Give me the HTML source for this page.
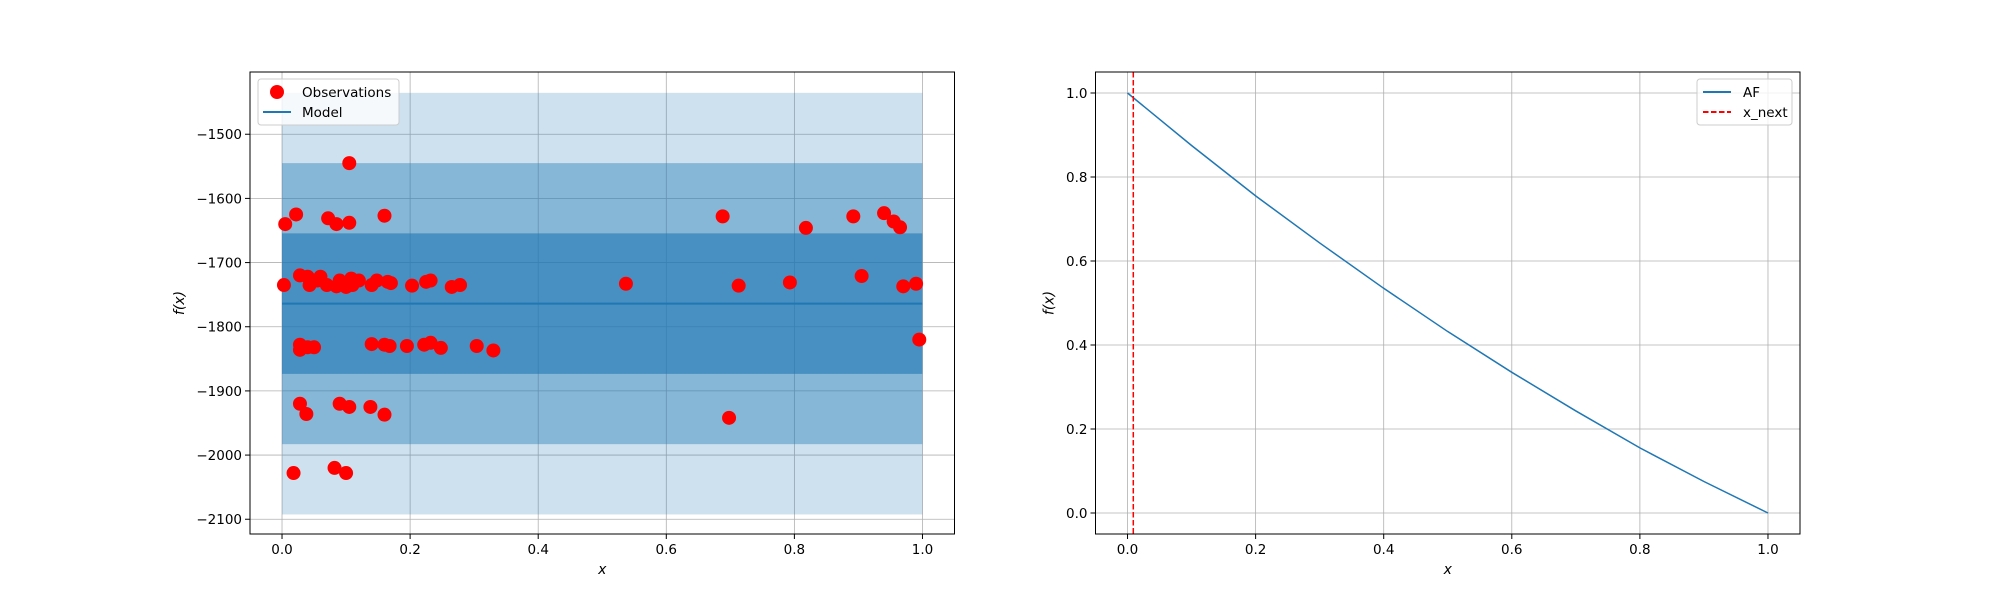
<!DOCTYPE html>
<html><head><meta charset="utf-8"><style>
body{margin:0;background:#fff}
svg{display:block;font-family:"DejaVu Sans","Liberation Sans",sans-serif}
</style></head><body>
<svg id="fig" width="2000" height="600" viewBox="0 0 2000 600" xmlns="http://www.w3.org/2000/svg"></svg>
<script>
const obsX=[0.005,0.003,0.022,0.028,0.04,0.043,0.055,0.06,0.07,0.072,0.085,0.085,0.09,0.1,0.105,0.105,0.108,0.11,0.12,0.14,0.148,0.16,0.165,0.17,0.203,0.225,0.232,0.265,0.278,0.537,0.688,0.713,0.793,0.818,0.892,0.905,0.94,0.955,0.965,0.97,0.99,0.995,0.028,0.028,0.04,0.05,0.14,0.16,0.168,0.195,0.222,0.232,0.248,0.304,0.33,0.028,0.038,0.09,0.105,0.138,0.16,0.698,0.018,0.082,0.1];
const obsY=[-1640,-1735,-1625,-1720,-1722,-1735,-1728,-1722,-1735,-1631,-1640,-1737,-1728,-1738,-1638,-1545,-1725,-1735,-1728,-1735,-1728,-1627,-1730,-1732,-1736,-1730,-1728,-1738,-1735,-1733,-1628,-1736,-1731,-1646,-1628,-1721,-1623,-1636,-1645,-1737,-1733,-1820,-1828,-1836,-1832,-1832,-1827,-1828,-1830,-1830,-1828,-1825,-1833,-1830,-1837,-1920,-1936,-1920,-1925,-1925,-1937,-1942,-2028,-2020,-2028];
const modelMean=-1764;
const modelStd=109.5;
const leftYTicks=[-2100,-2000,-1900,-1800,-1700,-1600,-1500];
const xTicks=[0,0.2,0.4,0.6,0.8,1.0];
const afX=[0,0.1,0.2,0.3,0.4,0.5,0.6,0.7,0.8,0.9,1.0];
const afY=[1.0,0.875,0.755,0.643,0.535,0.432,0.335,0.243,0.155,0.075,0.0];
const rightYTicks=[0,0.2,0.4,0.6,0.8,1.0];
const xNext=0.009;

const NS="http://www.w3.org/2000/svg";
const svg=document.getElementById('fig');
function mk(tag,attrs,parent){const e=document.createElementNS(NS,tag);for(const k in attrs)e.setAttribute(k,attrs[k]);(parent||svg).appendChild(e);return e;}
const T=72,B=534;
function axes(L,R,ylo,yhi,yticks,fmt,name){
  const g=mk('g',{});
  
  
  const sx=v=>L+(v+0.05)/1.1*(R-L);
  const sy=v=>B-(v-ylo)/(yhi-ylo)*(B-T);
  return {g,sx,sy,L,R,yticks,fmt};
}
function grid(a){
  const gg=mk('g',{},a.g);
  
  
  xTicks.forEach(t=>mk('line',{x1:a.sx(t),x2:a.sx(t),y1:T,y2:B,stroke:'#b0b0b0','stroke-width':0.8},gg));
  a.yticks.forEach(t=>mk('line',{x1:a.L,x2:a.R,y1:a.sy(t),y2:a.sy(t),stroke:'#b0b0b0','stroke-width':0.8},gg));
}
function frame(a,ylabel){
  mk('rect',{x:a.L,y:T,width:a.R-a.L,height:B-T,fill:'none',stroke:'#000','stroke-width':1},a.g);
  const xt=mk('g',{},a.g);
  
  
  xTicks.forEach(t=>{mk('line',{x1:a.sx(t),x2:a.sx(t),y1:B,y2:B+5,stroke:'#000'},xt);
    const tx=mk('text',{x:a.sx(t),y:B+20,'text-anchor':'middle','font-size':13.5},xt);tx.textContent=t.toFixed(1);});
  const yt=mk('g',{},a.g);
  
  
  a.yticks.forEach(t=>{mk('line',{x1:a.L-5,x2:a.L,y1:a.sy(t),y2:a.sy(t),stroke:'#000'},yt);
    const tx=mk('text',{x:a.L-8,y:a.sy(t)+5,'text-anchor':'end','font-size':13.5},yt);tx.textContent=a.fmt(t);});
  const xl=mk('text',{x:(a.L+a.R)/2,y:B+40,'text-anchor':'middle','font-size':14,'font-style':'italic'},a.g);
  xl.textContent='x';
  
  
  const yx=a.L-ylabel, yy=(T+B)/2;
  const yl=mk('text',{x:yx,y:yy,'text-anchor':'middle','font-size':14,'font-style':'italic',transform:`rotate(-90 ${yx} ${yy})`},a.g);
  yl.textContent='f(x)';
  
  
}
// left
const A=axes(250,954.5,-2123,-1403,leftYTicks,t=>'\u2212'+Math.abs(t),'left-axes');
grid(A);
[[3,0.22],[2,0.4],[1,0.6]].forEach(([k,op])=>{
  const r=mk('rect',{x:A.sx(0),width:A.sx(1)-A.sx(0),y:A.sy(modelMean+k*modelStd),height:A.sy(modelMean-k*modelStd)-A.sy(modelMean+k*modelStd),fill:'#1f77b4','fill-opacity':op},A.g);
  
  
});
const ml=mk('line',{x1:A.sx(0),x2:A.sx(1),y1:A.sy(modelMean),y2:A.sy(modelMean),stroke:'#1f77b4','stroke-width':2},A.g);


obsX.forEach((x,i)=>{const c=mk('circle',{cx:A.sx(x),cy:A.sy(obsY[i]),r:7,fill:'#ff0000'},A.g);
  
  });
frame(A,66);
// left legend
const lg=mk('g',{},A.g);


mk('rect',{x:258,y:79,width:141,height:46,rx:3,fill:'#fff','fill-opacity':0.8,stroke:'#ccc'},lg);
mk('circle',{cx:277,cy:92,r:7,fill:'#ff0000'},lg);
let t=mk('text',{x:302,y:97,'font-size':13.5},lg);t.textContent='Observations';
mk('line',{x1:263,x2:291,y1:112,y2:112,stroke:'#1f77b4','stroke-width':2},lg);
t=mk('text',{x:302,y:117,'font-size':13.5},lg);t.textContent='Model';
// right
const Bx=axes(1095.5,1800,-0.05,1.05,rightYTicks,t=>t.toFixed(1),'right-axes');
grid(Bx);
const af=mk('polyline',{points:afX.map((x,i)=>Bx.sx(x)+','+Bx.sy(afY[i])).join(' '),fill:'none',stroke:'#1f77b4','stroke-width':1.5},Bx.g);


const xn=mk('line',{x1:Bx.sx(xNext),x2:Bx.sx(xNext),y1:T,y2:B,stroke:'#ff0000','stroke-width':1.5,'stroke-dasharray':'5.5,2.5'},Bx.g);


frame(Bx,42);
const rg=mk('g',{},Bx.g);


mk('rect',{x:1697,y:79,width:95,height:46,rx:3,fill:'#fff','fill-opacity':0.8,stroke:'#ccc'},rg);
mk('line',{x1:1703,x2:1731,y1:92,y2:92,stroke:'#1f77b4','stroke-width':2},rg);
t=mk('text',{x:1743,y:97,'font-size':13.5},rg);t.textContent='AF';
mk('line',{x1:1703,x2:1731,y1:112,y2:112,stroke:'#ff0000','stroke-width':2,'stroke-dasharray':'5.5,2.5'},rg);
t=mk('text',{x:1743,y:117,'font-size':13.5},rg);t.textContent='x_next';
</script>
</body></html>
